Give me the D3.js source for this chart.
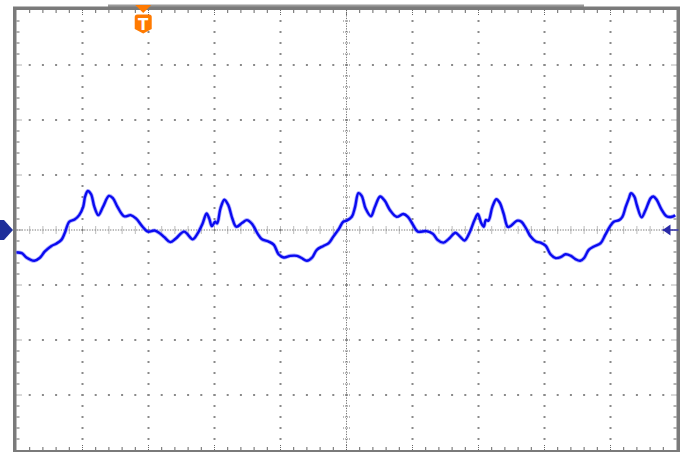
<!DOCTYPE html>
<html>
<head>
<meta charset="utf-8">
<script src="https://cdn.jsdelivr.net/npm/d3@7"></script>
<style>
  html, body { margin: 0; padding: 0; background: #ffffff; }
  svg { display: block; }
</style>
</head>
<body>
<svg id="chart" width="685" height="452"></svg>
<script>
// ---- data (time in divisions, amplitude in divisions) ----
const timeDiv = [0,0.08,0.15,0.27,0.35,0.43,0.53,0.60,0.68,0.73,0.80,0.88,0.95,1.01,1.04,1.08,1.13,1.18,1.24,1.31,1.40,1.46,1.53,1.63,1.73,1.81,1.91,1.99,2.09,2.16,2.24,2.33,2.41,2.54,2.67,2.74,2.82,2.88,2.92,2.96,3.01,3.04,3.09,3.15,3.21,3.27,3.33,3.42,3.49,3.57,3.65,3.72,3.82,3.90,3.97,4.05,4.15,4.25,4.32,4.40,4.48,4.55,4.65,4.73,4.80,4.88,4.95,5.00,5.08,5.13,5.18,5.23,5.29,5.37,5.43,5.51,5.58,5.66,5.76,5.86,5.93,6.01,6.08,6.21,6.31,6.38,6.47,6.56,6.65,6.72,6.79,6.86,6.94,6.99,7.04,7.08,7.11,7.15,7.21,7.27,7.32,7.38,7.44,7.47,7.59,7.65,7.72,7.79,7.87,7.94,8.02,8.09,8.17,8.25,8.32,8.40,8.47,8.54,8.60,8.67,8.75,8.85,8.92,8.99,9.05,9.13,9.18,9.23,9.28,9.31,9.36,9.40,9.47,9.53,9.61,9.65,9.70,9.77,9.85,9.93,9.98];
const voltDiv = [-0.41,-0.42,-0.50,-0.56,-0.51,-0.39,-0.29,-0.25,-0.18,-0.06,0.15,0.19,0.27,0.42,0.61,0.71,0.65,0.42,0.27,0.42,0.62,0.58,0.42,0.25,0.27,0.21,0.06,-0.03,-0.01,-0.05,-0.13,-0.22,-0.16,-0.03,-0.17,-0.07,0.12,0.30,0.21,0.07,0.15,0.12,0.39,0.55,0.45,0.21,0.06,0.13,0.18,0.11,-0.06,-0.17,-0.21,-0.27,-0.44,-0.50,-0.47,-0.47,-0.51,-0.56,-0.50,-0.36,-0.29,-0.24,-0.12,0.01,0.15,0.17,0.24,0.42,0.67,0.62,0.39,0.25,0.42,0.61,0.53,0.36,0.24,0.29,0.24,0.09,-0.03,-0.02,-0.07,-0.18,-0.23,-0.15,-0.05,-0.12,-0.19,-0.06,0.18,0.29,0.13,0.06,0.18,0.17,0.42,0.56,0.50,0.30,0.06,0.06,0.17,0.15,0.03,-0.12,-0.21,-0.23,-0.29,-0.44,-0.51,-0.49,-0.44,-0.47,-0.53,-0.56,-0.51,-0.36,-0.30,-0.24,-0.09,0.06,0.15,0.18,0.24,0.42,0.58,0.67,0.61,0.45,0.23,0.36,0.58,0.61,0.55,0.38,0.25,0.24,0.27];
const xDivisions = [0,1,2,3,4,5,6,7,8,9,10];
const yDivisions = [-4,-3,-2,-1,0,1,2,3,4];
const triggerTime = 1.92;     // trigger marker position (div)
const groundLevel = 0;        // channel 1 ground marker (div)
const triggerLevel = 0;       // trigger level marker (div)

// ---- layout ----
const L = 16.5, R = 676.5, T = 10, B = 450;
const x = d3.scaleLinear().domain([0, 10]).range([L, R]);
const y = d3.scaleLinear().domain([-4, 4]).range([B, T]);

const svg = d3.select("#chart");
const gridColor = "#8a8a8a";

// record-length bar on top
svg.append("rect").attr("x", 108).attr("y", 4.5).attr("width", 476).attr("height", 3).attr("fill", "#9a9a9a");

// frame
svg.append("rect")
  .attr("x", L - 1.75).attr("y", T - 1.75)
  .attr("width", R - L + 3.5).attr("height", B - T + 3.5)
  .attr("fill", "none").attr("stroke", "#7a7a7a").attr("stroke-width", 3.5);

const g = svg.append("g");

// minor positions (every 0.2 div)
const xMinor = d3.range(0, 50.001, 1).map(i => i * 0.2);
const yMinor = d3.range(0, 40.001, 1).map(i => -4 + i * 0.2);

// grid dots along major lines
xDivisions.slice(1, -1).forEach(xd => {
  if (xd === 5) return;
  yMinor.slice(1, -1).forEach(yd => {
    g.append("rect").attr("x", x(xd) - 1).attr("y", y(yd) - 1)
      .attr("width", 2).attr("height", 2).attr("fill", gridColor);
  });
});
yDivisions.slice(1, -1).forEach(yd => {
  if (yd === 0) return;
  xMinor.slice(1, -1).forEach(xd => {
    g.append("rect").attr("x", x(xd) - 1).attr("y", y(yd) - 1)
      .attr("width", 2).attr("height", 2).attr("fill", gridColor);
  });
});

// center lines: dotted with ticks
g.append("line").attr("x1", L).attr("x2", R).attr("y1", y(0)).attr("y2", y(0))
  .attr("stroke", "#777").attr("stroke-width", 1).attr("stroke-dasharray", "1.3,1.3");
g.append("line").attr("x1", x(5)).attr("x2", x(5)).attr("y1", T).attr("y2", B)
  .attr("stroke", "#777").attr("stroke-width", 1).attr("stroke-dasharray", "1.3,1.3");
xMinor.slice(1, -1).forEach(xd => {
  g.append("line").attr("x1", x(xd)).attr("x2", x(xd)).attr("y1", y(0) - 3.5).attr("y2", y(0) + 3.5)
    .attr("stroke", "#777").attr("stroke-width", 1).attr("stroke-dasharray", "1,1");
});
yMinor.slice(1, -1).forEach(yd => {
  g.append("line").attr("y1", y(yd)).attr("y2", y(yd)).attr("x1", x(5) - 3.5).attr("x2", x(5) + 3.5)
    .attr("stroke", "#777").attr("stroke-width", 1).attr("stroke-dasharray", "1,1");
});

// border ticks
xMinor.slice(1, -1).forEach((xd, i) => {
  const major = Math.abs(xd - Math.round(xd)) < 1e-6;
  const len = major ? 6 : 3;
  g.append("line").attr("x1", x(xd)).attr("x2", x(xd)).attr("y1", T).attr("y2", T + len)
    .attr("stroke", "#666").attr("stroke-width", 1).attr("stroke-dasharray", major ? "1,1" : null);
  g.append("line").attr("x1", x(xd)).attr("x2", x(xd)).attr("y1", B).attr("y2", B - len)
    .attr("stroke", "#666").attr("stroke-width", 1).attr("stroke-dasharray", major ? "1,1" : null);
});
yMinor.slice(1, -1).forEach(yd => {
  const major = Math.abs(yd - Math.round(yd)) < 1e-6;
  const len = major ? 6 : 3;
  g.append("line").attr("y1", y(yd)).attr("y2", y(yd)).attr("x1", L).attr("x2", L + len)
    .attr("stroke", "#666").attr("stroke-width", 1).attr("stroke-dasharray", major ? "1,1" : null);
  g.append("line").attr("y1", y(yd)).attr("y2", y(yd)).attr("x1", R).attr("x2", R - len)
    .attr("stroke", "#666").attr("stroke-width", 1).attr("stroke-dasharray", major ? "1,1" : null);
});

// waveform
const pts = timeDiv.map((t, i) => [t, voltDiv[i]]);
const line = d3.line().x(d => x(d[0])).y(d => y(d[1])).curve(d3.curveCatmullRom.alpha(0.5));
svg.append("path").datum(pts).attr("d", line)
  .attr("fill", "none").attr("stroke", "#6a6aff").attr("stroke-width", 4).attr("stroke-opacity", 0.55)
  .attr("stroke-linejoin", "round");
svg.append("path").datum(pts).attr("d", line)
  .attr("fill", "none").attr("stroke", "#0a0af0").attr("stroke-width", 2.4)
  .attr("stroke-linejoin", "round");

// channel ground marker (left)
const gy = y(groundLevel);
svg.append("path")
  .attr("d", `M0,${gy - 10} L4,${gy - 10} L13,${gy} L4,${gy + 10} L0,${gy + 10} Z`)
  .attr("fill", "#1e2e9a");

// trigger level marker (right)
const ty = y(triggerLevel);
svg.append("line").attr("x1", R - 14).attr("x2", R + 2).attr("y1", ty).attr("y2", ty)
  .attr("stroke", "#3a3ab0").attr("stroke-width", 1.5);
svg.append("path")
  .attr("d", `M${R - 14},${ty} L${R - 6},${ty - 5.5} L${R - 6},${ty + 5.5} Z`)
  .attr("fill", "#2a2aa8");

// trigger position marker (top)
const tx = x(triggerTime);
const orange = "#ff7a00";
svg.append("path")
  .attr("d", `M${tx - 8},${T - 5} L${tx + 8},${T - 5} L${tx},${T + 3} Z`)
  .attr("fill", orange);
svg.append("path")
  .attr("d", `M${tx - 8.5},${T + 7} Q${tx - 8.5},${T + 4.5} ${tx - 6},${T + 4.5} L${tx + 6},${T + 4.5} Q${tx + 8.5},${T + 4.5} ${tx + 8.5},${T + 7} L${tx + 8.5},${T + 19} L${tx},${T + 23.5} L${tx - 8.5},${T + 19} Z`)
  .attr("fill", orange);
svg.append("text").attr("x", tx).attr("y", T + 19.5)
  .attr("text-anchor", "middle").attr("fill", "#ffffff")
  .attr("font-family", "DejaVu Sans, Arial, sans-serif").attr("font-weight", "bold").attr("font-size", 15)
  .text("T");
</script>
</body>
</html>
